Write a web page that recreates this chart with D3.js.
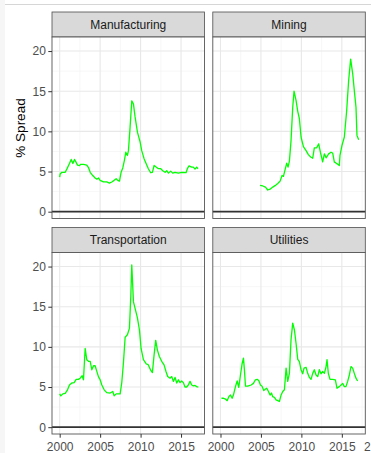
<!DOCTYPE html>
<html>
<head>
<meta charset="utf-8">
<script src="https://cdn.jsdelivr.net/npm/d3@7"></script>
<style>
body { margin: 0; background: #fff; }
svg text { font-family: "Liberation Sans", Arial, Helvetica, sans-serif; }
</style>
</head>
<body>
<div id="chart"></div>
<script>
// facet names, in panel order (row by row)
const sectors = ["Manufacturing", "Mining", "Transportation", "Utilities"];

// [year, % spread]
const manufacturing = [
    [2000.0, 4.3], [2000.06, 4.7], [2000.27, 4.9], [2000.68, 4.9], [2000.88, 5.3], [2001.21, 6.0],
    [2001.42, 6.5], [2001.63, 6.0], [2001.83, 6.5], [2002.0, 6.2], [2002.2, 5.8], [2002.45, 5.75],
    [2002.61, 5.9], [2002.94, 5.9], [2003.35, 5.8], [2003.56, 5.5], [2003.77, 4.9], [2004.09, 4.5],
    [2004.38, 4.2], [2004.59, 4.05], [2004.79, 4.2], [2005.0, 3.9], [2005.41, 3.7], [2005.82, 3.7],
    [2006.15, 3.55], [2006.44, 3.7], [2006.73, 3.9], [2006.98, 4.1], [2007.18, 3.9], [2007.39, 3.8],
    [2007.59, 4.9], [2007.8, 5.45], [2008.0, 6.4], [2008.17, 7.4], [2008.37, 7.0], [2008.5, 7.6],
    [2008.7, 10.5], [2008.91, 13.8], [2009.12, 13.4], [2009.32, 11.8], [2009.61, 9.9], [2009.94, 8.7],
    [2010.14, 7.6], [2010.43, 6.6], [2010.68, 6.0], [2010.96, 5.35], [2011.25, 4.85], [2011.46, 4.9],
    [2011.67, 5.75], [2012.0, 5.5], [2012.2, 5.35], [2012.49, 5.35], [2012.74, 5.1], [2013.03, 4.9],
    [2013.23, 5.1], [2013.44, 4.8], [2013.72, 5.05], [2013.97, 4.8], [2014.26, 4.9], [2014.67, 4.8],
    [2015.08, 4.9], [2015.62, 4.85], [2015.78, 5.35], [2015.99, 5.7], [2016.32, 5.55], [2016.52, 5.55],
    [2016.73, 5.3], [2016.93, 5.55], [2017.1, 5.35]
];

const mining = [
    [2004.9, 3.27], [2005.23, 3.2], [2005.56, 3.06], [2005.84, 2.7], [2006.13, 2.8], [2006.46, 3.06],
    [2006.79, 3.27], [2007.08, 3.5], [2007.37, 3.8], [2007.61, 4.5], [2007.78, 4.4], [2008.02, 5.35],
    [2008.19, 6.05], [2008.35, 5.55], [2008.52, 6.3], [2008.72, 8.85], [2008.93, 13.0], [2009.09, 15.0],
    [2009.34, 13.85], [2009.55, 12.5], [2009.75, 11.6], [2009.96, 9.3], [2010.25, 8.1], [2010.58, 7.6],
    [2010.86, 7.1], [2011.15, 6.8], [2011.4, 6.65], [2011.6, 7.95], [2011.89, 7.95], [2012.14, 8.45],
    [2012.35, 7.4], [2012.63, 6.2], [2012.84, 7.2], [2013.05, 6.7], [2013.37, 7.2], [2013.66, 7.4],
    [2013.87, 7.3], [2014.07, 6.2], [2014.49, 5.9], [2014.69, 5.75], [2014.77, 7.0], [2015.02, 8.25],
    [2015.31, 9.3], [2015.6, 12.6], [2015.84, 16.3], [2016.09, 19.0], [2016.34, 17.2], [2016.58, 14.7],
    [2016.75, 13.0], [2016.87, 9.5], [2017.08, 8.95]
];

const transportation = [
    [2000.0, 4.15], [2000.14, 3.9], [2000.39, 4.15], [2000.68, 4.2], [2000.97, 4.65], [2001.21, 5.25],
    [2001.5, 5.5], [2001.79, 5.55], [2002.04, 5.95], [2002.33, 5.95], [2002.53, 6.1], [2002.78, 6.4],
    [2002.94, 5.9], [2003.15, 9.8], [2003.35, 8.4], [2003.56, 8.2], [2003.77, 8.2], [2003.97, 7.15],
    [2004.18, 7.65], [2004.38, 7.65], [2004.59, 6.95], [2004.79, 6.3], [2005.0, 5.9], [2005.21, 5.25],
    [2005.5, 4.65], [2005.82, 4.3], [2006.24, 4.25], [2006.56, 4.45], [2006.73, 3.9], [2006.98, 4.15],
    [2007.26, 4.15], [2007.47, 4.15], [2007.67, 5.5], [2007.88, 8.0], [2008.09, 11.2], [2008.37, 11.5],
    [2008.62, 12.3], [2008.79, 16.3], [2008.91, 20.2], [2009.12, 15.6], [2009.32, 14.8], [2009.61, 13.6],
    [2009.86, 12.1], [2010.06, 9.8], [2010.35, 8.4], [2010.68, 7.9], [2010.96, 7.75], [2011.25, 7.1],
    [2011.46, 6.8], [2011.67, 9.0], [2011.87, 10.8], [2012.08, 9.6], [2012.32, 8.8], [2012.61, 8.2],
    [2012.9, 7.75], [2013.15, 6.9], [2013.35, 6.3], [2013.64, 6.1], [2013.85, 6.3], [2014.05, 5.7],
    [2014.26, 6.2], [2014.47, 5.5], [2014.67, 5.9], [2014.88, 5.55], [2015.08, 5.75], [2015.29, 5.55],
    [2015.49, 5.0], [2015.7, 5.0], [2015.9, 5.25], [2016.11, 5.7], [2016.32, 5.25], [2016.52, 5.15],
    [2016.73, 5.2], [2016.93, 5.05], [2017.14, 5.0]
];

const utilities = [
    [2000.12, 3.6], [2000.37, 3.6], [2000.62, 3.5], [2000.82, 3.3], [2001.03, 3.8], [2001.23, 4.0],
    [2001.44, 3.6], [2001.6, 4.0], [2001.85, 5.05], [2002.06, 5.75], [2002.26, 4.95], [2002.47, 6.5],
    [2002.67, 7.9], [2002.84, 8.6], [2002.96, 7.1], [2003.09, 5.1], [2003.37, 5.1], [2003.79, 5.25],
    [2004.07, 5.45], [2004.32, 5.9], [2004.53, 5.95], [2004.73, 5.8], [2004.94, 5.25], [2005.14, 5.1],
    [2005.35, 4.55], [2005.56, 4.75], [2005.72, 4.85], [2005.93, 4.45], [2006.13, 4.0], [2006.3, 4.25],
    [2006.46, 3.8], [2006.67, 3.7], [2006.87, 3.4], [2007.08, 3.3], [2007.28, 3.2], [2007.49, 4.0],
    [2007.7, 4.45], [2007.9, 4.65], [2008.11, 7.35], [2008.31, 5.7], [2008.52, 6.7], [2008.72, 10.9],
    [2008.93, 12.95], [2009.14, 12.1], [2009.34, 10.45], [2009.55, 8.45], [2009.75, 8.15], [2009.96, 7.15],
    [2010.16, 6.65], [2010.33, 7.35], [2010.58, 7.45], [2010.78, 6.7], [2010.99, 6.2], [2011.19, 5.95],
    [2011.4, 6.7], [2011.6, 7.15], [2011.81, 6.5], [2012.02, 6.3], [2012.22, 7.15], [2012.43, 6.65],
    [2012.63, 6.95], [2012.84, 6.7], [2013.05, 7.55], [2013.17, 8.4], [2013.33, 6.7], [2013.54, 5.95],
    [2013.87, 5.95], [2014.2, 5.9], [2014.4, 4.85], [2014.69, 5.05], [2014.9, 5.25], [2015.1, 5.45],
    [2015.31, 5.05], [2015.51, 5.05], [2015.72, 5.7], [2015.93, 6.5], [2016.13, 7.55], [2016.34, 7.35],
    [2016.54, 6.7], [2016.75, 6.1], [2016.95, 5.75]
];

const seriesBySector = [manufacturing, mining, transportation, utilities];

const xMajor = [2000, 2005, 2010, 2015];
const xMinor = [2002.5, 2007.5, 2012.5, 2017.5];
const yMajor = [0, 5, 10, 15, 20];
const yMinor = [2.5, 7.5, 12.5, 17.5];

const WIDTH = 371;
const HEIGHT = 453;
const PANEL_W = 152.5;
const PANEL_H = 181.5;
const STRIP_H = 25;
const COL_X = [52, 212.8];
const ROW_Y = [12, 227.5];          // top of each strip
const LINE_COLOR = "#00ff00";
const AXIS_FONT = "'Liberation Sans', Arial, sans-serif";

const x = d3.scaleLinear().domain([1999.05, 2017.9]).range([0, PANEL_W]);
const y = d3.scaleLinear().domain([-0.85, 21.75]).range([PANEL_H, 0]);

const line = d3.line()
    .x(d => x(d[0]))
    .y(d => y(d[1]));

const svg = d3.select("#chart")
    .append("svg")
    .attr("width", WIDTH)
    .attr("height", HEIGHT);

// faint frame of the original screenshot
svg.append("rect").attr("x", 0).attr("y", 0).attr("width", 5).attr("height", HEIGHT).attr("fill", "#f6f6f6");
svg.append("line").attr("x1", 5).attr("x2", WIDTH).attr("y1", 4.5).attr("y2", 4.5)
    .attr("stroke", "#d6d6d6").attr("stroke-width", 1);

sectors.forEach((name, i) => {
    const col = i % 2;
    const row = Math.floor(i / 2);
    const g = svg.append("g")
        .attr("transform", "translate(" + COL_X[col] + "," + ROW_Y[row] + ")");

    // strip
    g.append("rect")
        .attr("x", 0).attr("y", 0)
        .attr("width", PANEL_W).attr("height", STRIP_H)
        .attr("fill", "#d9d9d9")
        .attr("stroke", "#4d4d4d").attr("stroke-width", 0.8);
    g.append("text")
        .attr("x", PANEL_W / 2).attr("y", STRIP_H / 2)
        .attr("dy", "0.36em")
        .attr("text-anchor", "middle")
        .attr("font-size", 12)
        .attr("fill", "#1a1a1a")
        .text(name);

    const panel = g.append("g").attr("transform", "translate(0," + STRIP_H + ")");

    panel.append("rect")
        .attr("width", PANEL_W).attr("height", PANEL_H)
        .attr("fill", "#fff");

    // grid
    panel.selectAll("line.minor-x").data(xMinor.filter(v => x(v) < PANEL_W)).enter()
        .append("line")
        .attr("x1", d => x(d)).attr("x2", d => x(d))
        .attr("y1", 0).attr("y2", PANEL_H)
        .attr("stroke", "#f2f2f2").attr("stroke-width", 0.6);
    panel.selectAll("line.minor-y").data(yMinor).enter()
        .append("line")
        .attr("x1", 0).attr("x2", PANEL_W)
        .attr("y1", d => y(d)).attr("y2", d => y(d))
        .attr("stroke", "#f2f2f2").attr("stroke-width", 0.6);
    panel.selectAll("line.major-x").data(xMajor).enter()
        .append("line")
        .attr("x1", d => x(d)).attr("x2", d => x(d))
        .attr("y1", 0).attr("y2", PANEL_H)
        .attr("stroke", "#e8e8e8").attr("stroke-width", 1.1);
    panel.selectAll("line.major-y").data(yMajor).enter()
        .append("line")
        .attr("x1", 0).attr("x2", PANEL_W)
        .attr("y1", d => y(d)).attr("y2", d => y(d))
        .attr("stroke", "#e8e8e8").attr("stroke-width", 1.1);

    // zero reference
    panel.append("line")
        .attr("x1", 0).attr("x2", PANEL_W)
        .attr("y1", y(0)).attr("y2", y(0))
        .attr("stroke", "#333").attr("stroke-width", 1.6);

    panel.append("path")
        .datum(seriesBySector[i])
        .attr("d", line)
        .attr("fill", "none")
        .attr("stroke", LINE_COLOR)
        .attr("stroke-width", 1.3)
        .attr("stroke-linejoin", "round");

    panel.append("rect")
        .attr("width", PANEL_W).attr("height", PANEL_H)
        .attr("fill", "none")
        .attr("stroke", "#555").attr("stroke-width", 0.9);

    if (col === 0) {
        const yAxis = panel.append("g")
            .call(d3.axisLeft(y).tickValues(yMajor).tickSize(3.7).tickPadding(2.5));
        yAxis.select(".domain").remove();
        yAxis.selectAll("line").attr("stroke", "#333");
        yAxis.selectAll("text").attr("font-size", 12).attr("fill", "#4d4d4d")
            .style("font-family", AXIS_FONT);
    }

    if (row === 1) {
        const xAxis = panel.append("g")
            .attr("transform", "translate(0," + PANEL_H + ")")
            .call(d3.axisBottom(x).tickValues(xMajor).tickFormat(d3.format("d"))
                .tickSize(3.7).tickPadding(4.5));
        xAxis.select(".domain").remove();
        xAxis.selectAll("line").attr("stroke", "#333");
        xAxis.selectAll("text").attr("font-size", 12).attr("fill", "#4d4d4d")
            .style("font-family", AXIS_FONT);
    }
});

// leading digit of the next facet's first tick label, left visible at the crop edge
svg.append("text")
    .attr("x", 364)
    .attr("y", ROW_Y[1] + STRIP_H + PANEL_H + 3.7 + 4.5)
    .attr("dy", "0.71em")
    .attr("font-size", 12)
    .attr("fill", "#4d4d4d")
    .style("font-family", AXIS_FONT)
    .text("2");

svg.append("text")
    .attr("transform", "translate(20,128) rotate(-90)")
    .attr("text-anchor", "middle")
    .attr("dy", "0.36em")
    .attr("font-size", 13.5)
    .attr("fill", "#000")
    .text("% Spread");
</script>
</body>
</html>
